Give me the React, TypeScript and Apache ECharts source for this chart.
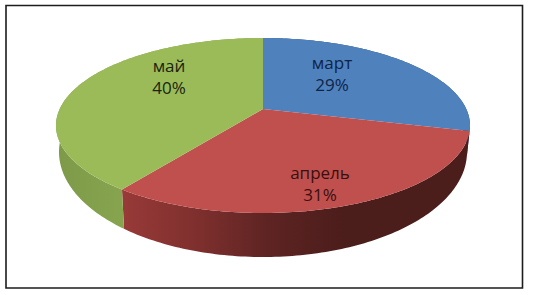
import React, { useEffect, useRef } from "react";
import * as echarts from "echarts";

const months = ["март", "апрель", "май"];
const shares = [29, 31, 40];

const topColors = ["#4f81bd", "#c0504d", "#9bbb59"];
const labelColors = ["#0e2447", "#3a0f10", "#1a2410"];
const labelCenters: [number, number][] = [[332, 73], [320, 183], [169, 76]];

// Perspective projection of the pie's plane on the picture
const APEX_X = 263, APEX_Y = 109, RX = 203.3, RY = 84.4, K = -0.1886;
const TOP_CY = 125.5;
// Lower silhouette of the disc's wall
const BASE_RX = 204, BASE_RY = 105, BASE_CY = 152, TOP_HALF_WIDTH = 207;

const project = (fraction: number): [number, number] => {
  const phi = fraction * Math.PI * 2;
  const sx = Math.sin(phi);
  const s = -Math.cos(phi);
  const w = 1 + K * s;
  return [APEX_X + (RX * sx) / w, APEX_Y + (RY * s) / w];
};

const total = shares.reduce((a, b) => a + b, 0);
const startOf = (i: number) => shares.slice(0, i).reduce((a, b) => a + b, 0) / total;

const sweep = (from: number, to: number) => {
  const n = Math.max(2, Math.ceil((to - from) * 360));
  const fs: number[] = [];
  for (let j = 0; j <= n; j++) fs.push(from + ((to - from) * j) / n);
  return fs;
};

const topArc = (from: number, to: number) => sweep(from, to).map(project);

const baseArc = (from: number, to: number) =>
  sweep(from, to).map((f): [number, number] => {
    const [x, y] = project(f);
    const u = Math.min(1, Math.abs(x - APEX_X) / TOP_HALF_WIDTH);
    const sign = y >= TOP_CY ? 1 : -1;
    return [
      APEX_X + ((x - APEX_X) * BASE_RX) / TOP_HALF_WIDTH,
      BASE_CY + sign * BASE_RY * Math.sqrt(1 - u * u),
    ];
  });

const wallFills = () => [
  "#2c4d75",
  new echarts.graphic.LinearGradient(122, 0, 345, 0, [
    { offset: 0, color: "#983a38" },
    { offset: 0.35, color: "#7d2f2d" },
    { offset: 0.65, color: "#5e2423" },
    { offset: 1, color: "#4b1d1b" },
  ], true),
  new echarts.graphic.LinearGradient(58, 0, 126, 0, [
    { offset: 0, color: "#7e9a49" },
    { offset: 1, color: "#87a54f" },
  ], true),
];

export default function App() {
  const ref = useRef<HTMLDivElement>(null);
  useEffect(() => {
    document.body.style.margin = "0";
    const chart = echarts.init(ref.current!, undefined, { renderer: "svg" });
    const rows = months.map((m, i) => [i, shares[i]]);
    const fills = wallFills();
    chart.setOption({
      animation: false,
      backgroundColor: "#ffffff",
      graphic: [
        {
          type: "rect",
          z: 0,
          shape: { x: 6, y: 5.5, width: 516.5, height: 282.5 },
          style: { fill: "#ffffff", stroke: "#1c1c1c", lineWidth: 1.6 },
        },
      ],
      series: [
        {
          type: "custom",
          coordinateSystem: "none",
          z: 2,
          data: rows,
          renderItem: (_p: any, api: any) => {
            const i = api.value(0);
            const from = startOf(i);
            const to = from + api.value(1) / total;
            return {
              type: "polygon",
              shape: { points: [...topArc(from, to), ...baseArc(from, to).reverse()] },
              style: { fill: fills[i] },
            };
          },
        },
        {
          type: "custom",
          coordinateSystem: "none",
          z: 3,
          data: rows,
          renderItem: (_p: any, api: any) => {
            const i = api.value(0);
            const from = startOf(i);
            const to = from + api.value(1) / total;
            return {
              type: "polygon",
              shape: { points: [[APEX_X, APEX_Y], ...topArc(from, to)] },
              style: { fill: topColors[i] },
            };
          },
        },
        {
          type: "custom",
          coordinateSystem: "none",
          z: 4,
          data: rows,
          renderItem: (_p: any, api: any) => {
            const i = api.value(0);
            const pct = Math.round((api.value(1) / total) * 100);
            return {
              type: "text",
              style: {
                text: `${months[i]}\n${pct}%`,
                x: labelCenters[i][0],
                y: labelCenters[i][1],
                align: "center",
                verticalAlign: "middle",
                font: '17px "Open Sans"',
                lineHeight: 22,
                fill: labelColors[i],
              },
            };
          },
        },
      ],
    });
    return () => chart.dispose();
  }, []);
  return <div ref={ref} style={{ width: 533, height: 295 }} />;
}
